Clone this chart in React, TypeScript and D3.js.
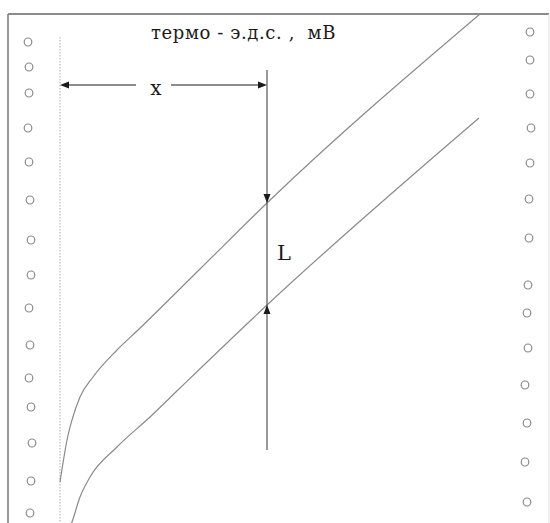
import React from "react";
import * as d3 from "d3";

// Recorder strip: thermo-EMF traces (mV) against chart travel
const upperX = [0, 0.6, 1.4, 2.4, 4, 6.6, 11.4, 15.6, 28, 41.4, 84];
const upperY = [7.6, 11.4, 16, 20, 24.6, 28.6, 34, 38, 50.2, 63.4, 101.2];
const lowerX = [1.8, 2.4, 4, 6, 11.4, 18, 24, 41.4, 83.8];
const lowerY = [-2, -0.4, 4.6, 8.6, 14.6, 20.6, 26.4, 43, 80.4];

// Perforation holes along both paper edges
const leftHoleX = [-6.4, -6.2, -6.2, -6.4, -6.2, -6, -5.8, -5.8, -6.2, -6, -6.2, -5.8, -5.6, -5.8, -6];
const leftHoleY = [95.6, 90.6, 85.4, 78.4, 71.6, 64, 56, 49, 42.4, 35, 28.4, 22.6, 15.4, 7.8, 1.4];
const rightHoleX = [94, 94, 94, 94.2, 94, 93.8, 93.8, 93.6, 93.4, 93.6, 93, 93.4, 93, 93.4];
const rightHoleY = [97.6, 92, 85.2, 78.4, 71.4, 64.2, 56.4, 47, 41.4, 34.4, 27, 19.4, 11.6, 3.6];

// Annotation values
const markerX = 41.4; // position of the measuring line
const xArrowY = 87;
const markerTop = 90;
const markerBottom = 14;
const titleText = "термо - э.д.с. ,  мВ";
const xLabel = "x";
const lLabel = "L";

const W = 550;
const H = 523;
const serif = "DejaVu Serif";

export default function App() {
  const x = d3.scaleLinear().domain([0, 84]).range([60, 480]);
  const y = d3.scaleLinear().domain([0, 100]).range([520, 20]);

  const line = d3
    .line<[number, number]>()
    .x((d) => x(d[0]))
    .y((d) => y(d[1]))
    .curve(d3.curveMonotoneX);

  const upper = line(upperX.map((v, i) => [v, upperY[i]]) as [number, number][]) || "";
  const lower = line(lowerX.map((v, i) => [v, lowerY[i]]) as [number, number][]) || "";

  // Trace values at the measuring line
  const interp = (xs: number[], ys: number[], xv: number) => {
    const i = d3.bisectLeft(xs, xv);
    if (xs[i] === xv) return ys[i];
    const t = (xv - xs[i - 1]) / (xs[i] - xs[i - 1]);
    return ys[i - 1] + t * (ys[i] - ys[i - 1]);
  };
  const upAt = interp(upperX, upperY, markerX);
  const lowAt = interp(lowerX, lowerY, markerX);

  const mx = x(markerX);
  const ay = y(xArrowY);
  const ink = "#1a1a1a";
  const trace = "#8a8a8a";

  const borderTop = 14;
  const borderLeft = 8;
  const borderRight = 549;
  const textStyle: React.CSSProperties = { fontFamily: serif, whiteSpace: "pre" };

  return (
    <svg
      width={W}
      height={H}
      style={{ position: "absolute", left: 0, top: 0, background: "#fff" }}
    >
      <defs>
        <clipPath id="paper">
          <rect x={borderLeft} y={borderTop} width={borderRight - borderLeft} height={H} />
        </clipPath>
      </defs>

      {/* paper edges */}
      <line x1={borderLeft} y1={borderTop} x2={borderRight} y2={borderTop} stroke="#666" strokeWidth={1.5} />
      <line x1={borderLeft} y1={borderTop} x2={borderLeft} y2={H} stroke="#777" strokeWidth={1.5} />
      <line x1={borderRight} y1={borderTop} x2={borderRight} y2={H} stroke="#ddd" strokeWidth={1} />

      {/* holes */}
      {leftHoleY.map((v, i) => (
        <ellipse key={"l" + i} cx={x(leftHoleX[i])} cy={y(v)} rx={3.8} ry={4} fill="none" stroke="#8a8a8a" strokeWidth={1.2} />
      ))}
      {rightHoleY.map((v, i) => (
        <ellipse key={"r" + i} cx={x(rightHoleX[i])} cy={y(v)} rx={3.8} ry={4} fill="none" stroke="#8a8a8a" strokeWidth={1.2} />
      ))}

      {/* zero line */}
      <line x1={x(0)} y1={y(96.6)} x2={x(0)} y2={H} stroke="#aaa" strokeWidth={1} strokeDasharray="1.5,1.5" />

      {/* traces */}
      <g clipPath="url(#paper)">
        <path d={upper} fill="none" stroke={trace} strokeWidth={1.2} />
        <path d={lower} fill="none" stroke={trace} strokeWidth={1.2} />
      </g>

      {/* title */}
      <text x={151} y={39} fontSize={18} letterSpacing={0.6} fill={ink} style={textStyle}>
        {titleText}
      </text>

      {/* x dimension arrow */}
      <line x1={x(0) + 6} y1={ay} x2={136} y2={ay} stroke={ink} strokeWidth={1.2} />
      <line x1={171} y1={ay} x2={mx - 7} y2={ay} stroke={ink} strokeWidth={1.2} />
      <path d={`M${x(0)},${ay} l9,-3.5 l0,7 z`} fill={ink} />
      <path d={`M${mx},${ay} l-9,-3.5 l0,7 z`} fill={ink} />
      <text x={156} y={95} textAnchor="middle" fontSize={20} fill={ink} style={textStyle}>
        {xLabel}
      </text>

      {/* measuring line with L arrows */}
      <line x1={mx} y1={y(markerTop)} x2={mx} y2={y(markerBottom)} stroke="#555" strokeWidth={1.2} />
      <path d={`M${mx},${y(upAt)} l-3.5,-9 l7,0 z`} fill={ink} />
      <path d={`M${mx},${y(lowAt)} l-3.5,9 l7,0 z`} fill={ink} />
      <text x={277} y={260} fontSize={21} fill={ink} style={textStyle}>
        {lLabel}
      </text>
    </svg>
  );
}
